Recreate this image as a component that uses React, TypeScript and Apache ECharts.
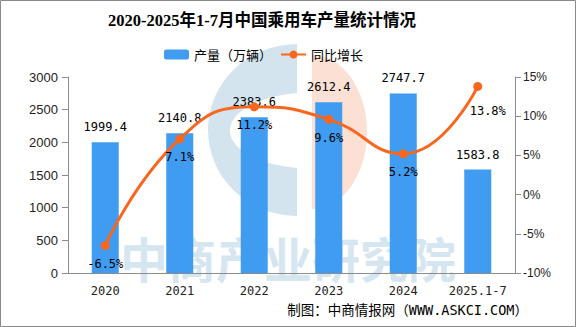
import React, { useEffect, useRef } from "react";
import * as echarts from "echarts";

const categories = ["2020", "2021", "2022", "2023", "2024", "2025.1-7"];
const production = [1999.4, 2140.8, 2383.6, 2612.4, 2747.7, 1583.8];
const growth = [-6.5, 7.1, 11.2, 9.6, 5.2, 13.8];
const titleText = "2020-2025年1-7月中国乘用车产量统计情况";
const seriesNames = ["产量（万辆）", "同比增长"];
const sourceText = "制图：中商情报网（WWW.ASKCI.COM）";
const watermarkText = "中商产业研究院";

let registered = false;
function registerLogo() {
  if (registered) return;
  registered = true;
  echarts.graphic.registerShape(
    "logoC",
    echarts.graphic.extendPath(
      "M297 44 A89 86 0 0 0 297 216 L297 168 A80 38 0 0 1 297 93 Z",
      {}
    )
  );
  echarts.graphic.registerShape(
    "logoD",
    echarts.graphic.extendPath("M312 55 A55 77 0 0 1 312 209 Z", {})
  );
}

export default function App() {
  const ref = useRef<HTMLDivElement>(null);
  useEffect(() => {
    if (!ref.current) return;
    registerLogo();
    const chart = echarts.init(ref.current, null, { renderer: "svg" });
    const mono = '"DejaVu Sans Mono", "Noto Sans CJK SC", monospace';
    const lineData = growth.map((v, i) =>
      i === growth.length - 1
        ? { value: v, label: { offset: [10, 6] } }
        : { value: v }
    );
    chart.setOption({
      animation: false,
      backgroundColor: "#ffffff",
      title: {
        text: titleText,
        left: 108,
        top: 12,
        padding: 0,
        textStyle: {
          fontFamily: '"Liberation Serif", "Noto Sans CJK SC", serif',
          fontWeight: "bold",
          fontSize: 16.5,
          color: "#000",
        },
      },
      legend: {
        left: 164,
        top: 48,
        padding: 0,
        itemWidth: 25,
        itemHeight: 10,
        itemGap: 8,
        textStyle: {
          fontFamily: '"Noto Sans CJK SC", sans-serif',
          fontSize: 13,
          color: "#000",
        },
        data: seriesNames,
      },
      grid: { left: 68, right: 61, top: 77, bottom: 54 },
      xAxis: {
        type: "category",
        data: categories,
        axisLine: { lineStyle: { color: "#8c8c8c" } },
        axisTick: { length: 6, lineStyle: { color: "#8c8c8c" } },
        axisLabel: {
          interval: 0,
          margin: 12,
          fontFamily: mono,
          fontSize: 12,
          color: "#222",
        },
      },
      yAxis: [
        {
          type: "value",
          min: 0,
          max: 3000,
          interval: 500,
          axisLine: { show: true, lineStyle: { color: "#8c8c8c" } },
          axisTick: { show: true, length: 6, lineStyle: { color: "#8c8c8c" } },
          splitLine: { show: false },
          axisLabel: {
            margin: 10,
            formatter: (v: number) => String(v),
            fontFamily: '"Liberation Sans", sans-serif',
            fontSize: 13,
            color: "#222",
          },
        },
        {
          type: "value",
          position: "right",
          min: -10,
          max: 15,
          interval: 5,
          axisLine: { show: true, lineStyle: { color: "#8c8c8c" } },
          axisTick: { show: true, length: 6, lineStyle: { color: "#8c8c8c" } },
          splitLine: { show: false },
          axisLabel: {
            margin: 8,
            formatter: (v: number) => v + "%",
            fontFamily: '"Liberation Sans", sans-serif',
            fontSize: 12,
            color: "#222",
          },
        },
      ],
      series: [
        {
          name: seriesNames[0],
          type: "bar",
          data: production,
          barWidth: 27,
          z: 2,
          itemStyle: { color: "#3f9cf1" },
          label: {
            show: true,
            position: "top",
            distance: 9,
            fontFamily: mono,
            fontSize: 12,
            color: "#000",
          },
        },
        {
          name: seriesNames[1],
          type: "line",
          yAxisIndex: 1,
          data: lineData,
          smooth: true,
          z: 5,
          symbol: "circle",
          symbolSize: 9,
          lineStyle: { color: "#f9661e", width: 3 },
          itemStyle: { color: "#f9661e" },
          label: {
            show: true,
            position: "bottom",
            distance: 8,
            formatter: "{c}%",
            fontFamily: mono,
            fontSize: 12,
            color: "#000",
          },
        },
      ],
      graphic: [
        {
          type: "text",
          x: 288,
          y: 257,
          z: 0,
          style: {
            text: watermarkText,
            fontSize: 48,
            lineHeight: 44,
            fontWeight: "bold",
            fontFamily: '"Noto Sans CJK SC", sans-serif',
            fill: "#d6e6f0",
            align: "center",
            verticalAlign: "middle",
          },
        },
        {
          type: "logoC",
          x: 0,
          y: 0,
          z: 0,
          style: { fill: "#d3e4ef" },
        },
        {
          type: "logoD",
          x: 0,
          y: 0,
          z: 0,
          style: { fill: "#fbe0d3" },
        },
        {
          type: "text",
          x: 528,
          y: 310,
          z: 0,
          style: {
            text: sourceText,
            fontSize: 13.5,
            fontFamily: mono,
            fill: "#000",
            align: "right",
            verticalAlign: "middle",
          },
        },
        {
          type: "rect",
          z: 10,
          shape: { x: 0.5, y: 0.5, width: 575, height: 326 },
          style: { fill: "none", stroke: "#8a8a8a", lineWidth: 1 },
        },
      ],
    });
    return () => chart.dispose();
  }, []);
  return (
    <div
      ref={ref}
      style={{ position: "absolute", left: 0, top: 0, width: 576, height: 327 }}
    />
  );
}
